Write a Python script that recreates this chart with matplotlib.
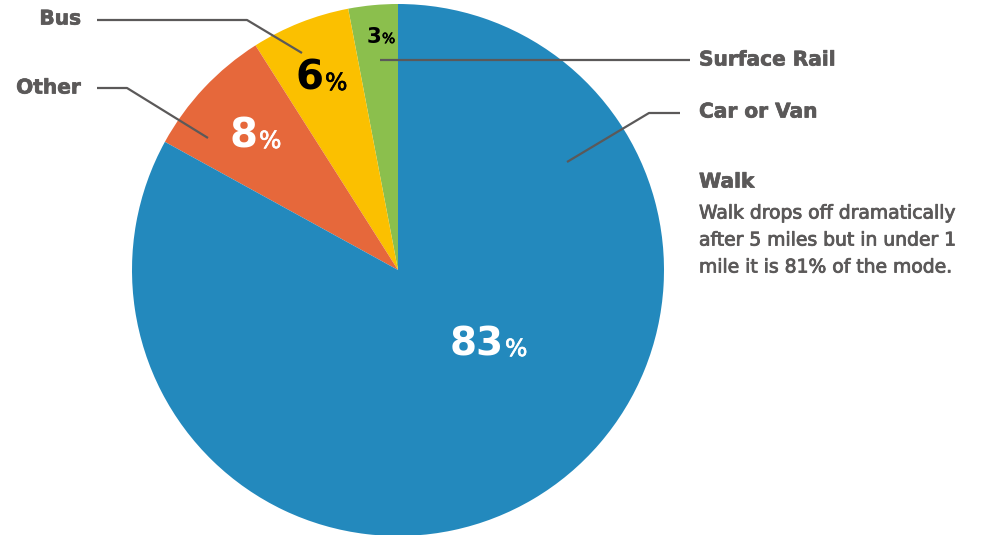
import matplotlib.pyplot as plt
import matplotlib.patheffects as pe

# mode share, going round from 12 o'clock
modes = ["Surface Rail", "Bus", "Other", "Car or Van"]
shares = [3, 6, 8, 83]
colors = ["#8bbf4d", "#fbc000", "#e6683b", "#2389bd"]
num_colors = ["black", "black", "white", "white"]

walk_title = "Walk"
walk_note = ["Walk drops off dramatically",
             "after 5 miles but in under 1",
             "mile it is 81% of the mode."]

W, H = 984, 535
gray = "#5b5959"
font = "DejaVu Sans"

fig = plt.figure(figsize=(W / 100, H / 100), dpi=100)
ax = fig.add_axes([0, 0, 1, 1])

ax.pie(shares, colors=colors, startangle=90, counterclock=True,
       center=(398, H - 270), radius=266,
       wedgeprops=dict(linewidth=0))
ax.set_xlim(0, W)
ax.set_ylim(0, H)
ax.set_aspect("equal")
ax.axis("off")


def py(y):
    return H - y


# percentage labels: right edge of number, baseline, size of number, size of %
num_pos = [(381, 43, 15.5, 10), (324, 90, 29, 17), (258, 148, 29, 17), (504, 356, 28, 17)]
for val, (x, yb, s1, s2), c in zip(shares, num_pos, num_colors):
    ax.text(x, py(yb), str(val), ha="right", va="baseline", fontsize=s1,
            fontweight="bold", color=c, family=font)
    ax.text(x + 1, py(yb), "%", ha="left", va="baseline", fontsize=s2,
            color=c, family=font, path_effects=[pe.withStroke(linewidth=0.5, foreground=c)])

# leader lines
leaders = [
    [(380, 60), (690, 60)],
    [(97, 20), (247, 20), (302, 53)],
    [(97, 88), (127, 88), (208, 138)],
    [(567, 162), (649, 113), (680, 113)],
]
for pts in leaders:
    ax.plot([p[0] for p in pts], [py(p[1]) for p in pts], color=gray, lw=1.6,
            solid_capstyle="butt")

heavy = [pe.withStroke(linewidth=0.5, foreground=gray)]
thick = [pe.withStroke(linewidth=0.6, foreground=gray)]

# category labels
lab_pos = [(699, 60, "left"), (81, 19, "right"), (81, 88, "right"), (699, 112, "left")]
for name, (x, y, ha) in zip(modes, lab_pos):
    ax.text(x, py(y), name, ha=ha, va="center", fontsize=14.5, fontweight="bold",
            color=gray, family=font, path_effects=heavy)

ax.text(699, py(182), walk_title, ha="left", va="center", fontsize=14.5,
        fontweight="bold", color=gray, family=font, path_effects=heavy)
for i, line in enumerate(walk_note):
    ax.text(699, py(213 + 27 * i), line, ha="left", va="center", fontsize=13.5,
            color=gray, family=font, path_effects=thick)

fig.savefig("out.png", dpi=100)
